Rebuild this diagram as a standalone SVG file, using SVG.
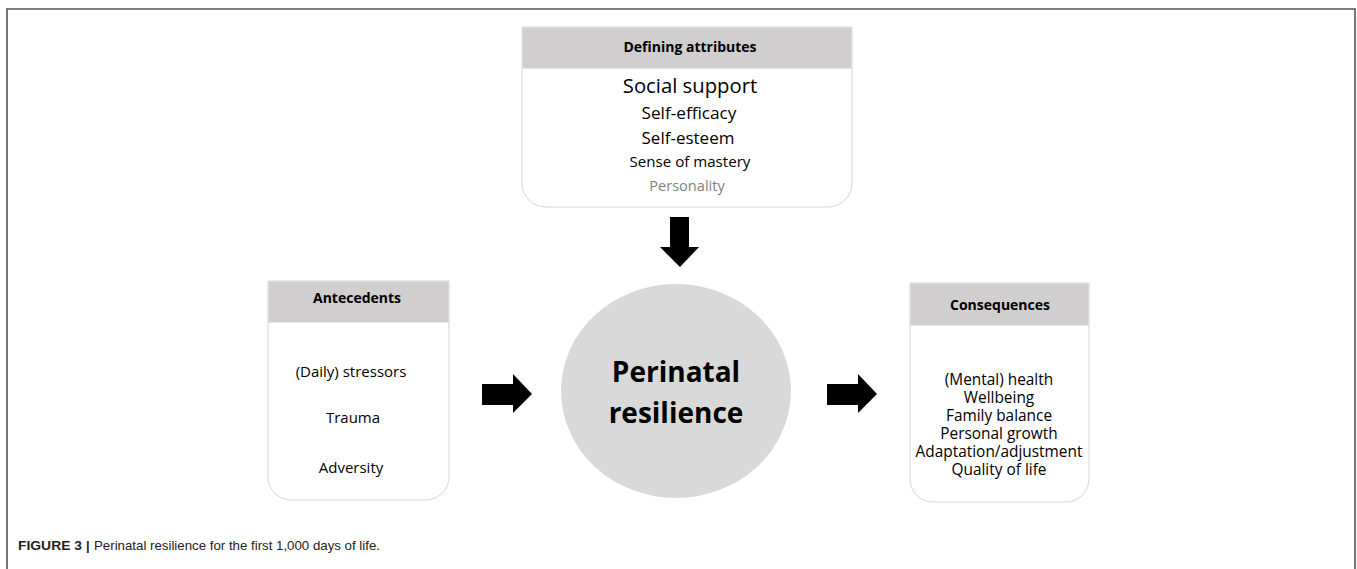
<svg xmlns="http://www.w3.org/2000/svg" width="1357" height="569" viewBox="0 0 1357 569">
<style>
.box{fill:#ffffff;stroke:#d6d6d6;stroke-width:1}
.hdr{fill:#d0cece}
.t{font-family:"Open Sans","Noto Sans","Liberation Sans",sans-serif;fill:#000;text-anchor:middle}
.h{font-weight:bold;font-size:14px}
.big{font-weight:bold;font-size:28px}
.arrow{fill:#000}
.cap{font-family:"Liberation Sans",Arial,sans-serif;font-size:13px;fill:#222}
</style>
<rect width="1357" height="569" fill="#ffffff"/>
<path d="M7,569 V9 H1355 V569" fill="none" stroke="#555" stroke-width="1.6"/>

<g id="defining-attributes">
<path class="box" d="M522,27 H852 V183 A24,24 0 0 1 828,207 H546 A24,24 0 0 1 522,183 Z"/>
<rect class="hdr" x="522.5" y="27.5" width="329" height="41"/>
<text class="t h" x="690" y="52">Defining attributes</text>
<text class="t" x="690" y="93" font-size="20.3">Social support</text>
<text class="t" x="689" y="119" font-size="17.2">Self-efficacy</text>
<text class="t" x="688" y="144" font-size="17">Self-esteem</text>
<text class="t" x="690" y="167" font-size="15.1">Sense of mastery</text>
<text class="t" x="687" y="191" font-size="14.6" fill="#808080" style="fill:#7f7f7f">Personality</text>
</g>

<g id="perinatal-resilience">
<ellipse cx="676" cy="391" rx="115" ry="107" fill="#d9d9d9"/>
<text class="t big" x="676" y="382">Perinatal</text>
<text class="t big" x="676" y="423">resilience</text>
</g>

<g id="antecedents">
<path class="box" d="M268,281 H449 V477 A23,23 0 0 1 426,500 H291 A23,23 0 0 1 268,477 Z"/>
<rect class="hdr" x="268.5" y="281.5" width="180" height="41"/>
<text class="t h" x="357" y="303">Antecedents</text>
<text class="t" x="351" y="377" font-size="15">(Daily) stressors</text>
<text class="t" x="353" y="423" font-size="15">Trauma</text>
<text class="t" x="351" y="473" font-size="15">Adversity</text>
</g>

<g id="consequences">
<path class="box" d="M910,283 H1089 V479 A23,23 0 0 1 1066,502 H933 A23,23 0 0 1 910,479 Z"/>
<rect class="hdr" x="910.5" y="283.5" width="178" height="42"/>
<text class="t h" x="1000" y="310">Consequences</text>
<text class="t" x="999" y="385" font-size="15.4">(Mental) health</text>
<text class="t" x="999" y="403" font-size="15.4">Wellbeing</text>
<text class="t" x="999" y="421" font-size="15.4">Family balance</text>
<text class="t" x="999" y="438.5" font-size="15.4">Personal growth</text>
<text class="t" x="999" y="456.5" font-size="15.4">Adaptation/adjustment</text>
<text class="t" x="999" y="474.5" font-size="15.4">Quality of life</text>
</g>

<g id="connectors">
<polygon class="arrow" points="670,217 689,217 689,247 699,247 680,267 660,247 670,247"/>
<polygon class="arrow" points="482,384 513,384 513,374 532,394 513,413 513,405 482,405"/>
<polygon class="arrow" points="827,384 858,384 858,374 877,394 858,413 858,405 827,405"/>
</g>

<g id="caption">
<text class="cap" x="18" y="550" font-weight="bold" textLength="64" lengthAdjust="spacingAndGlyphs">FIGURE 3</text>
<text class="cap" x="86" y="550" font-weight="bold">|</text>
<text class="cap" x="94" y="550" textLength="286" lengthAdjust="spacingAndGlyphs">Perinatal resilience for the first 1,000 days of life.</text>
</g>
</svg>
